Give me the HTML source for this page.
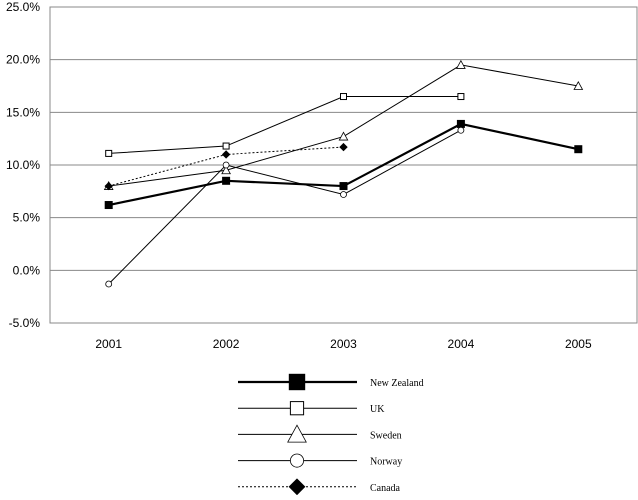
<!DOCTYPE html>
<html><head><meta charset="utf-8"><style>
body{margin:0;background:#fff;}
svg text{font-family:"Liberation Sans",Arial,sans-serif;}
</style></head><body>
<svg id="chart" width="638" height="495" xmlns="http://www.w3.org/2000/svg"></svg>
<script>
const categories=["2001","2002","2003","2004","2005"];
const yTicks=[-5,0,5,10,15,20,25];
const seriesNames=["New Zealand","UK","Sweden","Norway","Canada"];
const nzValues=[6.2,8.5,8.0,13.9,11.5];
const ukValues=[11.1,11.8,16.5,16.5,null];
const swedenValues=[8.0,9.5,12.7,19.5,17.5];
const norwayValues=[-1.3,10.0,7.2,13.3,null];
const canadaValues=[8.0,11.0,11.7,null,null];

const NS="http://www.w3.org/2000/svg";
const svg=document.getElementById('chart');
const L=50,R=637,T=7,B=323;
const yMin=-5,yMax=25;
function y(v){return B-(v-yMin)/(yMax-yMin)*(B-T);}
function x(i){return L+(R-L)*(i+0.5)/categories.length;}
function mk(tag,attrs,parent){const e=document.createElementNS(NS,tag);for(const k in attrs)e.setAttribute(k,attrs[k]);(parent||svg).appendChild(e);return e;}

const grid=mk('g',{});


yTicks.forEach(t=>{
  const l=mk('line',{x1:L,x2:R,y1:y(t),y2:y(t),stroke:'#888','stroke-width':1},grid);
  
  
  const tx=mk('text',{x:L-10,y:y(t)+4,'text-anchor':'end','font-size':12});
  tx.textContent=t.toFixed(1)+'%';
  
  
});
const frame=mk('rect',{x:L,y:T,width:R-L,height:B-T,fill:'none',stroke:'#888'});


categories.forEach((c,i)=>{
  const tx=mk('text',{x:x(i),y:B+25,'text-anchor':'middle','font-size':12});
  tx.textContent=c;
  
  
});

const styles=[
 {vals:nzValues,w:2.2,dash:null,m:'square',fill:'#000',s:3.5},
 {vals:ukValues,w:1,dash:null,m:'square',fill:'#fff',s:3},
 {vals:swedenValues,w:1,dash:null,m:'tri',fill:'#fff',s:3.5},
 {vals:norwayValues,w:1,dash:null,m:'circle',fill:'#fff',s:3},
 {vals:canadaValues,w:1,dash:'2,2',m:'diamond',fill:'#000',s:3.5}
];
function marker(g,m,cx,cy,s,fill){
  let e;
  if(m==='square')e=mk('rect',{x:cx-s,y:cy-s,width:2*s,height:2*s,fill:fill,stroke:'#000'},g);
  else if(m==='tri')e=mk('polygon',{points:`${cx},${cy-s*1.2} ${cx-s*1.2},${cy+s} ${cx+s*1.2},${cy+s}`,fill:fill,stroke:'#000','stroke-width':0.8},g);
  else if(m==='circle')e=mk('circle',{cx:cx,cy:cy,r:s,fill:fill,stroke:'#000','stroke-width':0.8},g);
  else e=mk('polygon',{points:`${cx},${cy-s} ${cx+s},${cy} ${cx},${cy+s} ${cx-s},${cy}`,fill:fill,stroke:'#000'},g);
  return e;
}
styles.forEach((st,k)=>{
  const g=mk('g',{});
  
  
  let pts=[];
  st.vals.forEach((v,i)=>{if(v!==null)pts.push([x(i),y(v)]);});
  const pl=mk('polyline',{points:pts.map(p=>p.join(',')).join(' '),fill:'none',stroke:'#000','stroke-width':st.w},g);
  if(st.dash)pl.setAttribute('stroke-dasharray',st.dash);
  
  
  pts.forEach(p=>{
    const e=marker(g,st.m,p[0],p[1],st.s,st.fill);
    
    
  });
  // legend
  const ly=382+k*26.2;
  const lg=mk('g',{});
  
  
  const ll=mk('line',{x1:238,x2:357,y1:ly,y2:ly,stroke:'#000','stroke-width':st.w},lg);
  if(st.dash)ll.setAttribute('stroke-dasharray',st.dash);
  marker(lg,st.m,297,ly,st.s*2.2,st.fill);
  const tx=mk('text',{x:370,y:ly+4,'font-size':10,'font-family':'Liberation Serif'},lg);
  tx.setAttribute('style','font-family:"Liberation Serif",serif');
  tx.textContent=seriesNames[k];
});
</script>
</body></html>
